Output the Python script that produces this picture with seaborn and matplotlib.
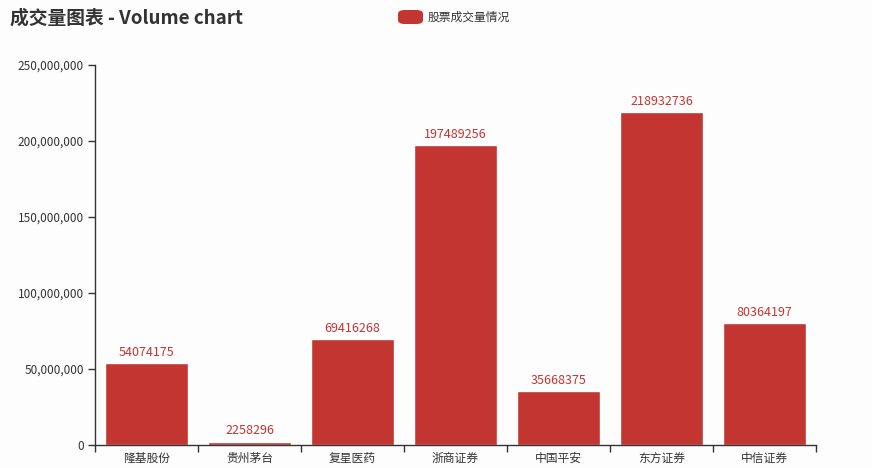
import matplotlib
matplotlib.use('Agg')
import matplotlib.pyplot as plt
from matplotlib.patches import FancyBboxPatch
from matplotlib.ticker import FuncFormatter, FixedLocator
import pandas as pd
import seaborn as sns

# data
stocks = ['隆基股份', '贵州茅台', '复星医药', '浙商证券', '中国平安', '东方证券', '中信证券']
volumes = [54074175, 2258296, 69416268, 197489256, 35668375, 218932736, 80364197]
series_name = '股票成交量情况'
title = '成交量图表 - Volume chart'

df = pd.DataFrame({'stock': stocks, 'volume': volumes})

sns.set_style('white')
plt.rcParams['font.family'] = ['Noto Sans CJK SC', 'DejaVu Sans']

bar_color = '#c23531'
text_color = '#333333'

fig = plt.figure(figsize=(8.72, 4.68), dpi=100)
fig.patch.set_facecolor('#fdfdfd')
ax = fig.add_axes([95 / 872, 1 - 445 / 468, (816 - 95) / 872, (445 - 65) / 468])
ax.set_facecolor('#fdfdfd')

sns.barplot(data=df, x='stock', y='volume', color=bar_color, saturation=1,
            width=0.8, ax=ax)

# value labels just above each bar
for p, v in zip(ax.patches, volumes):
    ax.annotate(str(v), (p.get_x() + p.get_width() / 2, v), xytext=(0, 3),
                textcoords='offset points', ha='center', va='bottom',
                color=bar_color, fontsize=9)

ax.set_ylim(0, 250000000)
ax.set_xlim(-0.5, len(stocks) - 0.5)
ax.set_yticks(range(0, 250000001, 50000000))
ax.yaxis.set_major_formatter(FuncFormatter(lambda v, pos: f'{int(v):,}'))
ax.set_xlabel('')
ax.set_ylabel('')

# category ticks sit between the bars
ax.xaxis.set_minor_locator(FixedLocator([i - 0.5 for i in range(len(stocks) + 1)]))
ax.tick_params(axis='x', which='major', length=0, pad=5, labelsize=8.5, labelcolor=text_color)
ax.tick_params(axis='x', which='minor', length=5, width=1, color=text_color, direction='out', bottom=True)
ax.tick_params(axis='y', length=5, width=1, color=text_color, direction='out', left=True,
               labelsize=8.5, labelcolor=text_color, pad=3)

for s in ['top', 'right']:
    ax.spines[s].set_visible(False)
for s in ['left', 'bottom']:
    ax.spines[s].set_color(text_color)
    ax.spines[s].set_linewidth(1)

fig.text(10 / 872, 1 - 18 / 468, title, fontsize=13.5, fontweight='bold',
         color=text_color, va='center', ha='left')

# legend in the echarts style
leg = FancyBboxPatch((398 / 872, 1 - 24 / 468), 25 / 872, 14 / 468,
                     boxstyle='round,pad=0,rounding_size=0.008', transform=fig.transFigure,
                     facecolor=bar_color, edgecolor='none')
fig.patches.append(leg)
fig.text(428 / 872, 1 - 17 / 468, series_name, fontsize=8.5, color=text_color,
         va='center', ha='left')

fig.savefig('out.png', dpi=100, facecolor=fig.get_facecolor())
